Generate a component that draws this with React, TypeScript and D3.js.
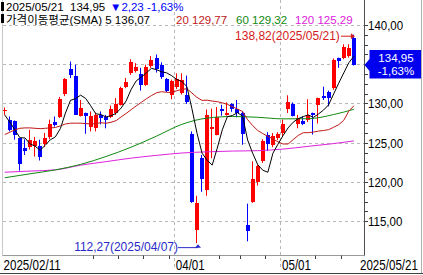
import React from 'react';
import * as d3 from 'd3';

// ---------- data ----------
const dates = [
  '02/11','02/12','02/13','02/14','02/18','02/19','02/20','02/21','02/24','02/25','02/26','02/27','02/28',
  '03/03','03/04','03/05','03/06','03/07','03/10','03/11','03/12','03/13','03/14','03/17','03/18','03/19','03/20','03/21','03/24','03/25','03/26','03/27','03/28','03/31',
  '04/01','04/02','04/03','04/04','04/07','04/08','04/09','04/10','04/11','04/14','04/15','04/16','04/17','04/21','04/22','04/23','04/24','04/25','04/28','04/29','04/30',
  '05/01','05/02','05/05','05/06','05/07','05/08','05/09','05/12','05/13','05/14','05/15','05/16','05/19','05/20','05/21'
];
const opens = [129.2,127.9,127.8,125.6,124.4,124.5,124.6,124.7,124.95,125.8,127.65,128.4,131.3,134.4,133.6,128.5,128.9,127.1,126.9,128.6,128.4,128.3,128.9,129.9,132.1,134.0,134.15,133.8,132.45,134.8,135.85,135.0,133.2,131.1,132.2,131.4,131.1,126.2,113.9,123.1,119.0,126.8,126.1,129.4,128.55,130.0,129.35,128.9,114.6,117.5,120.0,122.7,126.1,124.8,125.7,126.3,129.4,130.0,127.5,127.8,127.9,128.85,129.9,131.0,131.5,132.0,135.85,135.85,136.1,138.4];
const highs = [129.55,128.4,127.9,125.6,125.5,126.7,125.8,125.45,126.3,128.0,128.4,130.9,133.3,135.4,135.0,130.5,128.9,129.05,128.9,129.05,128.6,129.8,130.75,132.2,133.3,135.7,135.2,134.6,135.0,136.1,136.3,135.3,133.3,133.1,133.9,133.9,133.6,126.5,118.3,123.5,129.3,129.4,129.6,129.9,130.2,130.1,130.5,129.05,117.3,122.7,122.3,125.5,126.4,126.3,126.4,128.0,131.1,130.2,128.6,128.4,130.6,128.9,130.8,132.2,131.7,135.8,135.9,137.6,137.6,138.82];
const lows = [128.6,126.5,125.45,121.5,123.5,124.2,123.3,122.8,124.5,125.5,127.1,128.2,131.0,133.3,128.6,128.4,126.2,126.5,126.5,127.4,126.9,128.2,128.6,129.8,132.0,133.7,134.0,131.7,132.3,134.6,134.0,133.2,131.5,130.6,131.9,131.2,130.0,117.4,112.27,118.8,118.3,123.1,126.0,128.5,128.5,129.0,128.3,124.8,112.5,117.4,119.6,122.5,124.0,124.5,125.4,125.8,128.85,128.4,126.9,127.3,127.7,126.1,127.5,130.5,129.7,131.8,134.6,135.7,135.9,134.9];
const closes = [129.25,126.7,126.0,122.4,124.0,125.45,125.3,123.3,125.6,127.5,127.3,130.6,133.2,133.7,128.6,129.5,128.5,128.5,128.6,128.2,127.9,129.3,130.0,132.0,132.75,135.3,134.7,132.4,134.7,135.6,134.4,133.4,131.7,132.9,133.2,133.1,130.2,117.5,117.35,120.5,128.6,127.1,128.3,129.05,128.85,129.35,128.85,126.2,113.8,120.4,122.1,125.3,124.9,125.9,126.2,127.5,130.25,128.5,128.2,127.5,128.6,128.6,130.7,130.7,130.8,135.55,135.45,137.25,137.18,134.95];

const ma5 = [128.6,127.7,126.7,125.7,125.67,124.91,124.63,124.09,124.73,125.43,125.8,126.86,128.84,130.46,130.68,131.12,130.7,129.76,128.74,128.66,128.34,128.5,128.8,129.48,130.39,131.87,132.95,133.43,133.97,134.54,134.36,134.1,133.96,133.6,133.12,132.86,132.22,129.38,126.27,123.73,122.83,122.21,124.37,126.71,128.38,128.53,128.88,128.46,125.41,123.72,122.27,121.56,121.3,123.72,124.88,125.96,126.95,127.67,128.13,128.39,128.61,128.28,128.72,129.22,129.88,131.27,132.64,133.95,135.25,136.07];
const ma20 = [126.1,126.4,126.7,126.9,126.95,126.95,126.9,126.85,126.9,126.95,127.0,127.2,127.45,127.55,127.55,127.55,127.5,127.45,127.5,127.61,127.54,127.67,127.87,128.35,128.79,129.28,129.75,130.21,130.66,131.07,131.42,131.56,131.49,131.45,131.68,131.86,131.94,131.39,130.83,130.45,130.48,130.37,130.29,130.14,129.94,129.65,129.35,129.04,128.0,127.24,126.62,126.22,125.88,125.53,125.18,124.9,124.9,125.45,125.99,126.34,126.34,126.42,126.54,126.62,126.72,127.03,127.36,127.91,129.08,129.77];
const maKnots = [1,6,11,16,21,26,31,36,41,46,51,56,61,66,70];
const ma60 = [120.6,121.1,121.6,122.3,123.3,124.5,125.9,127.4,128.2,128.4,128.3,128.1,128.12,128.65,129.32];
const ma120 = [121.3,121.45,121.6,122.2,122.65,123.1,123.45,123.75,123.9,124.0,124.05,124.25,124.6,124.95,125.29];

const yTicks = [115,120,125,130,135,140];
const monthLines = ['04/01','05/01'];
const weekTicks = ['03/10','03/17','03/24','03/31','04/14','04/21','04/28','05/12','05/19'];
const firstDateLabel = '2025/02/11';
const lastDateLabel = '2025/05/21';
const lowDateLabel = '2025/04/07';

// ---------- styles ----------
const UP = '#ff0000';
const DOWN = '#0000ff';
const MA_COLORS = ['#000000', '#c01818', '#108a10', '#dd22dd'];
const FONT = "'Liberation Sans', Arial, 'Noto Sans CJK KR', sans-serif";
const GRID = '#b8b8b8';

const fmt = (v: number) => v.toFixed(2).replace('.', ',');

export default function App() {
  const W = 423, H = 275;
  const axisX = 364.5;
  const axisY = 255.5;
  const x = d3.scaleBand<string>().domain(dates).range([2.2, 356.4]).paddingInner(0).paddingOuter(0);
  const bw = x.bandwidth();
  const cx = (i: number) => (x(dates[i]) as number) + bw / 2;
  const y = d3.scaleLinear().domain([115, 140]).range([221.7, 25.45]);
  const crisp = (v: number) => Math.round(v - 0.5) + 0.5;

  const line = d3.line<number>().x((_, i) => cx(i)).y(v => y(v));
  const knotLine = d3.line<number>().x((_, k) => cx(maKnots[k] - 1)).y(v => y(v)).curve(d3.curveMonotoneX);

  const minorTicks = d3.range(115, 140.001, 1.25);

  const n = closes.length;
  const last = closes[n - 1];
  const prev = closes[n - 2];
  const chg = last - prev;
  const pct = (chg / prev) * 100;

  const hiIdx = d3.maxIndex(highs);
  const loIdx = d3.minIndex(lows);
  const hx = cx(hiIdx), hy = y(highs[hiIdx]);
  const lx = cx(loIdx), ly = y(lows[loIdx]);
  const yc = y(last);
  const boxTop = yc - 15, boxBot = yc + 13.5;

  const xLabel = (txt: string, px: number, anchor: 'start' | 'end') => (
    <text key={'xl' + txt} transform={`translate(${px},269.5) scale(0.8,1)`} fontSize={14.5} textAnchor={anchor}>{txt}</text>
  );

  return (
    <svg width={W} height={H} style={{ position: 'absolute', left: 0, top: 0, display: 'block', background: '#fff' }}
      fontFamily={FONT}>
      <rect x={0} y={0} width={W} height={H} fill="#fff" />
      {/* horizontal grid */}
      {yTicks.map(t => (
        <line key={'g' + t} x1={3} x2={axisX} y1={crisp(y(t))} y2={crisp(y(t))} stroke={GRID} strokeDasharray="3,3" />
      ))}
      {/* month grid lines */}
      {monthLines.map(d => (
        <line key={'m' + d} x1={crisp(x(d) as number)} x2={crisp(x(d) as number)} y1={0} y2={270} stroke={GRID} strokeDasharray="3,3" />
      ))}
      {/* frame */}
      <line x1={2.5} x2={2.5} y1={0} y2={axisY} stroke="#c8c8c8" />
      <line x1={2.5} x2={axisX} y1={axisY} y2={axisY} stroke="#9a9a9a" />
      <line x1={axisX} x2={axisX} y1={0} y2={axisY} stroke="#505050" />
      <line x1={0} x2={W} y1={273.5} y2={273.5} stroke="#404040" />
      <line x1={421.5} x2={421.5} y1={0} y2={273} stroke="#b0b0b0" />

      {/* candles */}
      {dates.map((d, i) => {
        const o = opens[i], c = closes[i], h = highs[i], l = lows[i];
        const col = c >= o ? UP : DOWN;
        const bx = Math.round(cx(i) - 2);
        const top = Math.round(y(Math.max(o, c)));
        const bot = Math.round(y(Math.min(o, c)));
        const bh = Math.max(1, bot - top);
        return (
          <g key={d}>
            <line x1={bx + 1.5} x2={bx + 1.5} y1={y(h)} y2={y(l)} stroke={col} />
            <rect x={bx} y={top} width={4} height={bh} fill={col} />
          </g>
        );
      })}

      {/* moving averages */}
      <path d={knotLine(ma120) || ''} fill="none" stroke={MA_COLORS[3]} strokeWidth={1} />
      <path d={knotLine(ma60) || ''} fill="none" stroke={MA_COLORS[2]} strokeWidth={1} />
      <path d={line(ma20) || ''} fill="none" stroke={MA_COLORS[1]} strokeWidth={1} />
      <path d={line(ma5) || ''} fill="none" stroke={MA_COLORS[0]} strokeWidth={1} />

      {/* y axis ticks & labels (the one under the price box is hidden) */}
      {minorTicks.map(t => (
        <line key={'t' + t} x1={axisX} x2={axisX + 3.5} y1={crisp(y(t))} y2={crisp(y(t))} stroke="#404040" />
      ))}
      {yTicks.filter(t => y(t) + 6 < boxTop || y(t) - 6 > boxBot).map(t => (
        <text key={'l' + t} transform={`translate(368,${y(t) + 4.5}) scale(0.92,1)`} fontSize={12.5} fill="#000">{fmt(t)}</text>
      ))}

      {/* x axis */}
      {weekTicks.map(d => (
        <line key={'w' + d} x1={crisp(x(d) as number)} x2={crisp(x(d) as number)} y1={axisY} y2={259} stroke="#404040" />
      ))}
      {xLabel(firstDateLabel, 3.5, 'start')}
      {monthLines.map(d => xLabel(d, (x(d) as number) + 1.5, 'start'))}
      {xLabel(lastDateLabel, 418, 'end')}

      {/* high / low annotations */}
      <text x={hx - 14} y={hy + 5.5} fontSize={12} fill="#d41c1c" textAnchor="end">{`${fmt(highs[hiIdx])}(${lastDateLabel})`}</text>
      <line x1={hx - 13} x2={hx - 1} y1={hy + 1.5} y2={hy + 1.5} stroke="#d41c1c" />
      <path d={`M${hx + 1},${hy + 1.5} L${hx - 3},${hy - 1.5} L${hx - 3},${hy + 4.5} Z`} fill="#d41c1c" />

      <text x={lx - 19} y={ly + 8} fontSize={12} fill="#2a2ac8" textAnchor="end">{`${fmt(lows[loIdx])}(${lowDateLabel})`}</text>
      <line x1={lx - 19} x2={lx + 1} y1={ly + 4.5} y2={ly + 4.5} stroke="#2a2ac8" />
      <path d={`M${lx + 1},${ly + 1} L${lx - 2},${ly + 4.5} L${lx + 4},${ly + 4.5} Z`} fill="#2a2ac8" />

      {/* last price box */}
      <path d={`M${axisX},${yc} L${axisX + 5},${yc - 6} L${axisX + 5},${boxTop} L421,${boxTop} L421,${boxBot} L${axisX + 5},${boxBot} L${axisX + 5},${yc + 6} Z`} fill="#0000ee" />
      <text transform={`translate(396,${yc - 3.5}) scale(1.05,1)`} fontSize={11} fill="#fff" textAnchor="middle">{fmt(last)}</text>
      <text transform={`translate(396,${yc + 9.5}) scale(1.05,1)`} fontSize={11} fill="#fff" textAnchor="middle">{`-${fmt(Math.abs(pct))}%`}</text>

      {/* header */}
      <rect x={1} y={2} width={3} height={9} fill="#000" />
      <text y={10.5} fontSize={11.5}>
        <tspan x={6} fill="#000">{lastDateLabel}</tspan>
        <tspan x={70} fill="#000">{fmt(last)}</tspan>
        <tspan x={110} fill="#0000ff">{`▼${fmt(Math.abs(chg))}`}</tspan>
        <tspan x={147} fill="#0000ff">{`-${fmt(Math.abs(pct))}%`}</tspan>
      </text>
      <rect x={1} y={14} width={3} height={9} fill="#000" />
      <text y={23.5} fontSize={11.5}>
        <tspan x={6} fill="#000">{`가격이동평균(SMA) 5 ${fmt(ma5[n - 1])}`}</tspan>
        <tspan x={176} fill={MA_COLORS[1]}>{`20 ${fmt(ma20[n - 1])}`}</tspan>
        <tspan x={236} fill={MA_COLORS[2]}>{`60 ${fmt(ma60[ma60.length - 1])}`}</tspan>
        <tspan x={295} fill={MA_COLORS[3]}>{`120 ${fmt(ma120[ma120.length - 1])}`}</tspan>
      </text>
    </svg>
  );
}
